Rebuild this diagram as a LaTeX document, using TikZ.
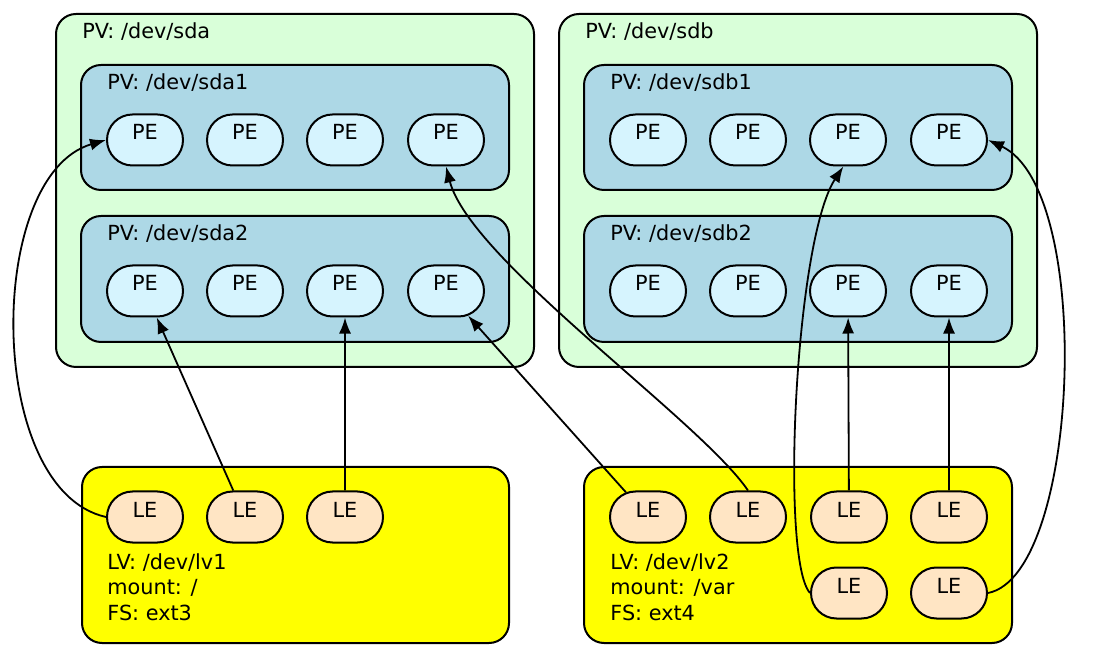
\documentclass[tikz,border=0pt]{standalone}
\usepackage{fontspec}
\setmainfont{DejaVu Sans}
\usepackage{tikz}
\usetikzlibrary{arrows.meta, shapes.misc}

\definecolor{pvgreen}{RGB}{217,255,217}
\definecolor{partblue}{RGB}{173,216,230}
\definecolor{pefill}{RGB}{214,244,254}
\definecolor{lefill}{RGB}{255,229,196}
\definecolor{lvyellow}{RGB}{255,255,0}

\tikzset{
  pvbox/.style={draw, line width=1pt, fill=pvgreen, rounded corners=10pt},
  partbox/.style={draw, line width=1pt, fill=partblue, rounded corners=10pt},
  lvbox/.style={draw, line width=1pt, fill=lvyellow, rounded corners=10pt},
  pebox/.style={draw, line width=1pt, fill=pefill, rounded rectangle,
    minimum width=38pt, minimum height=25.5pt, inner sep=0pt,
    text height=7pt, text depth=7pt},
  lebox/.style={pebox, fill=lefill},
  tag/.style={anchor=base west, inner sep=0pt},
  link/.style={line width=0.9pt, -{Latex[length=8pt,width=6pt]}}
}

\begin{document}
\begin{tikzpicture}[x=0.5pt, y=-0.5pt, font=\fontsize{10.4}{12.75}\selectfont]
    \useasboundingbox (0, 0) rectangle (1101, 656);

    % physical volumes
    \begin{scope}
      \draw[pvbox] (56, 14) rectangle (534, 367);
      \node[tag] (sdatag) at (82, 39) {PV: /dev/sda};
      \draw[partbox] (81, 65) rectangle (509, 190);
      \node[tag] (sda1tag) at (107, 90) {PV: /dev/sda1};
      \draw[partbox] (81, 216) rectangle (509, 342);
      \node[tag] (sda2tag) at (107, 241) {PV: /dev/sda2};
      \node[pebox] (sda1pe1) at (145, 140) {PE};
      \node[pebox] (sda1pe2) at (245, 140) {PE};
      \node[pebox] (sda1pe3) at (345, 140) {PE};
      \node[pebox] (sda1pe4) at (446, 140) {PE};
      \node[pebox] (sda2pe1) at (145, 291) {PE};
      \node[pebox] (sda2pe2) at (245, 291) {PE};
      \node[pebox] (sda2pe3) at (345, 291) {PE};
      \node[pebox] (sda2pe4) at (446, 291) {PE};
    \end{scope}

    \begin{scope}
      \draw[pvbox] (559, 14) rectangle (1037, 367);
      \node[tag] (sdbtag) at (585, 39) {PV: /dev/sdb};
      \draw[partbox] (584, 65) rectangle (1012, 190);
      \node[tag] (sdb1tag) at (610, 90) {PV: /dev/sdb1};
      \draw[partbox] (584, 216) rectangle (1012, 342);
      \node[tag] (sdb2tag) at (610, 241) {PV: /dev/sdb2};
      \node[pebox] (sdb1pe1) at (648, 140) {PE};
      \node[pebox] (sdb1pe2) at (748, 140) {PE};
      \node[pebox] (sdb1pe3) at (848, 140) {PE};
      \node[pebox] (sdb1pe4) at (949, 140) {PE};
      \node[pebox] (sdb2pe1) at (648, 291) {PE};
      \node[pebox] (sdb2pe2) at (748, 291) {PE};
      \node[pebox] (sdb2pe3) at (848, 291) {PE};
      \node[pebox] (sdb2pe4) at (949, 291) {PE};
    \end{scope}

    % logical volumes
    \begin{scope}
      \draw[lvbox] (82, 467) rectangle (509, 643);
      \node[lebox] (lv1le1) at (145, 517) {LE};
      \node[lebox] (lv1le2) at (245, 517) {LE};
      \node[lebox] (lv1le3) at (345, 517) {LE};
      \node[anchor=north west, inner sep=0pt, align=left] (lv1tag) at (107, 553)
        {LV: /dev/lv1\\mount: /\\FS: ext3};
    \end{scope}

    \begin{scope}
      \draw[lvbox] (584, 467) rectangle (1012, 643);
      \node[lebox] (lv2le1) at (648, 517) {LE};
      \node[lebox] (lv2le2) at (748, 517) {LE};
      \node[lebox] (lv2le3) at (849, 517) {LE};
      \node[lebox] (lv2le4) at (949, 517) {LE};
      \node[lebox] (lv2le5) at (849, 593) {LE};
      \node[lebox] (lv2le6) at (949, 593) {LE};
      \node[anchor=north west, inner sep=0pt, align=left] (lv2tag) at (610, 553)
        {LV: /dev/lv2\\mount: /var\\FS: ext4};
    \end{scope}

    % mappings
    \draw[link] (lv1le1.west) .. controls (-15, 490) and (-15, 175) .. (sda1pe1.west);
    \draw[link] (lv1le2) -- (sda2pe1);
    \draw[link] (lv1le3) -- (sda2pe3);
    \draw[link] (lv2le1) -- (sda2pe4);
    \draw[link] (lv2le2.north) .. controls (700, 420) and (470, 260) .. (sda1pe4.south);
    \draw[link] (lv2le3) -- (sdb2pe3);
    \draw[link] (lv2le4) -- (sdb2pe4);
    \draw[link] (lv2le5.west) .. controls (780, 560) and (795, 240) .. (sdb1pe3.-100);
    \draw[link] (lv2le6.east) .. controls (1080, 575) and (1095, 190) .. (sdb1pe4.east);
  \end{tikzpicture}
\end{document}
